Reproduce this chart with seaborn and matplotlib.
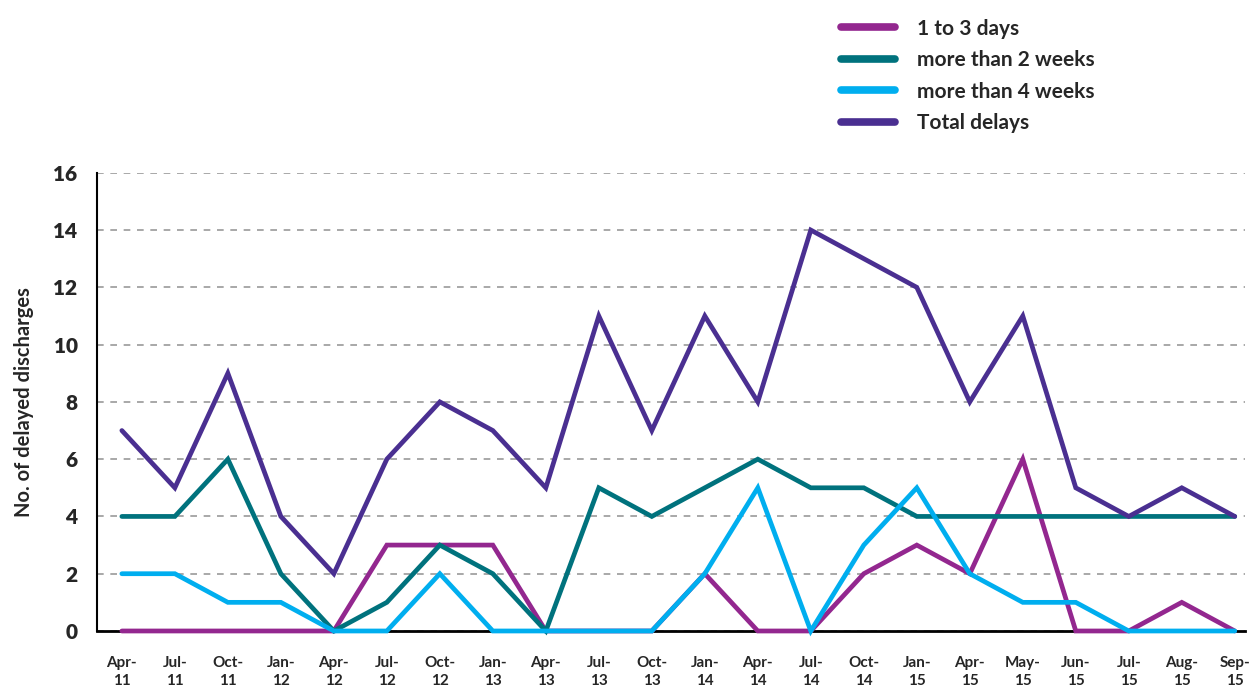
"""
Delayed discharges over time, recreated with seaborn.
"""
import pandas as pd
import matplotlib
matplotlib.use("Agg")
import matplotlib.pyplot as plt
import seaborn as sns

sns.set_style("white")
plt.rcParams['font.family'] = ['Lato', 'DejaVu Sans']

# Data
periods = ["Apr-\n11", "Jul-\n11", "Oct-\n11", "Jan-\n12", "Apr-\n12", "Jul-\n12",
           "Oct-\n12", "Jan-\n13", "Apr-\n13", "Jul-\n13", "Oct-\n13", "Jan-\n14",
           "Apr-\n14", "Jul-\n14", "Oct-\n14", "Jan-\n15", "Apr-\n15", "May-\n15",
           "Jun-\n15", "Jul-\n15", "Aug-\n15", "Sep-\n15"]
days_1_to_3 = [0, 0, 0, 0, 0, 3, 3, 3, 0, 0, 0, 2, 0, 0, 2, 3, 2, 6, 0, 0, 1, 0]
over_2_weeks = [4, 4, 6, 2, 0, 1, 3, 2, 0, 5, 4, 5, 6, 5, 5, 4, 4, 4, 4, 4, 4, 4]
over_4_weeks = [2, 2, 1, 1, 0, 0, 2, 0, 0, 0, 0, 2, 5, 0, 3, 5, 2, 1, 1, 0, 0, 0]
total_delays = [7, 5, 9, 4, 2, 6, 8, 7, 5, 11, 7, 11, 8, 14, 13, 12, 8, 11, 5, 4, 5, 4]

series_names = ["1 to 3 days", "more than 2 weeks", "more than 4 weeks", "Total delays"]
series_values = [days_1_to_3, over_2_weeks, over_4_weeks, total_delays]
colors = ["#93278F", "#00727D", "#00AEEF", "#4A2F91"]

rows = []
for name, vals in zip(series_names, series_values):
    for i, v in enumerate(vals):
        rows.append({"idx": i, "value": v, "series": name})
df = pd.DataFrame(rows)

fig = plt.figure(figsize=(12.51, 6.89), dpi=100)
ax = fig.add_axes([0.0775, 0.0842, 0.918, 0.665])

sns.lineplot(data=df, x="idx", y="value", hue="series", hue_order=series_names,
             palette=colors, linewidth=3.4, legend=False, ax=ax,
             solid_capstyle="round", solid_joinstyle="miter")
for line in ax.lines:
    line.set_clip_on(False)
    line.set_zorder(3)

ax.set_xlim(-0.47, 21.2)
ax.set_ylim(0, 16)
ax.set_yticks(range(0, 17, 2))
ax.set_xticks(range(len(periods)))
ax.set_xticklabels(periods, fontsize=11, fontweight="bold", linespacing=1.35)
ax.tick_params(axis="x", length=0, pad=18)
ax.tick_params(axis="y", length=8, width=1, color="#999999", labelsize=15, pad=6)
for lab in ax.get_yticklabels():
    lab.set_fontweight("heavy")

ax.yaxis.grid(True, linestyle=(0, (4, 4)), color="#999999", linewidth=1.2)
ax.xaxis.grid(False)

for side in ["top", "right"]:
    ax.spines[side].set_visible(False)
ax.spines["left"].set_color("black")
ax.spines["bottom"].set_color("black")
ax.spines["left"].set_linewidth(1.5)
ax.spines["bottom"].set_linewidth(2)
ax.spines["bottom"].set_zorder(1)

ax.set_xlabel("")
ax.set_ylabel("No. of delayed discharges", fontsize=14.5, fontweight="bold", labelpad=14)

handles = [plt.Line2D([0], [0], color=c, linewidth=5.5, solid_capstyle="round") for c in colors]
fig.legend(handles, series_names, loc="upper left", bbox_to_anchor=(0.657, 1.0),
           frameon=False, handlelength=2.6, handletextpad=1.05,
           labelspacing=0.55, prop={"size": 15, "weight": "bold"})

plt.savefig("out.png", dpi=100)
plt.close()
